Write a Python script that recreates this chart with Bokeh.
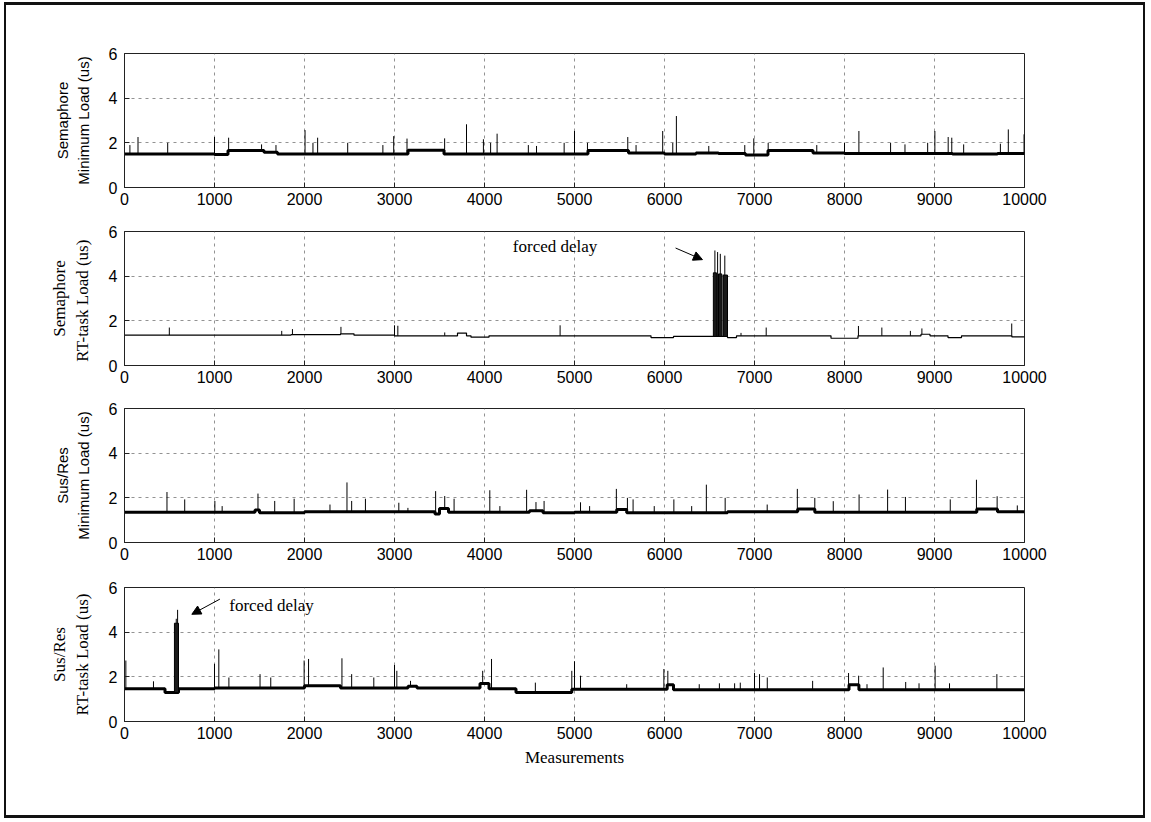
import numpy as np
from bokeh.plotting import figure
from bokeh.layouts import column
from bokeh.models import Range1d, Arrow, NormalHead, Label, FixedTicker
from bokeh.embed import file_html
from bokeh.resources import INLINE

# ---------------- data ----------------
x_ticks = [0, 1000, 2000, 3000, 4000, 5000, 6000, 7000, 8000, 9000, 10000]
y_ticks = [0, 2, 4, 6]
x_end = 10000

# Subplot 1: Semaphore, minimum load
s1_level_x = [0, 1000, 1150, 1550, 1700, 3150, 3550, 5150, 5600, 6000, 6350, 6600, 6900, 7150, 7650, 8000, 9200, 9700]
s1_level_y = [1.50, 1.48, 1.66, 1.58, 1.50, 1.67, 1.50, 1.66, 1.55, 1.50, 1.55, 1.52, 1.45, 1.66, 1.55, 1.52, 1.50, 1.52]
s1_spike_x = [60, 150, 480, 1000, 1157, 1523, 1683, 2006, 2094, 2146, 2480, 2871, 2991, 3139, 3557, 3800, 3988, 4068,
              4140, 4487, 4578, 4885, 5000, 5144, 5592, 5684, 5980, 6092, 6132, 6492, 6892, 6992, 7152, 7692, 8000,
              8160, 8512, 8672, 8924, 9004, 9152, 9192, 9324, 9732, 9820, 9995]
s1_spike_y = [1.90, 2.26, 2.00, 2.26, 2.23, 1.93, 1.90, 2.57, 2.00, 2.23, 2.00, 1.90, 2.30, 2.19, 2.20, 2.83, 2.16, 2.00,
              2.41, 1.90, 1.86, 2.00, 2.53, 2.00, 2.26, 1.90, 2.53, 2.00, 3.20, 1.86, 1.90, 2.20, 2.00, 1.90, 2.00,
              2.53, 2.00, 1.93, 2.00, 2.53, 2.26, 2.23, 1.93, 1.96, 2.60, 2.38]
s1_burst_x0, s1_burst_x1, s1_burst_top = [], [], []

# Subplot 2: Semaphore, RT-task load
s2_level_x = [0, 1850, 2400, 2550, 3000, 3700, 3800, 3850, 4050, 5850, 6100, 6700, 6800, 7850, 8150, 8850, 8950, 9150, 9300, 9860]
s2_level_y = [1.36, 1.38, 1.42, 1.36, 1.33, 1.45, 1.33, 1.27, 1.33, 1.25, 1.30, 1.25, 1.33, 1.22, 1.33, 1.40, 1.33, 1.25, 1.33, 1.28]
s2_spike_x = [498, 1747, 1866, 2405, 3000, 3037, 3558, 4840, 6560, 6590, 6620, 6670, 6850, 7130, 8155, 8415, 8732, 8860, 9858]
s2_spike_y = [1.70, 1.55, 1.63, 1.73, 1.80, 1.78, 1.48, 1.80, 5.15, 5.08, 5.00, 4.92, 1.46, 1.70, 1.77, 1.70, 1.55, 1.66, 1.88]
s2_burst_x0 = [6543, 6600, 6650]
s2_burst_x1 = [6577, 6637, 6700]
s2_burst_top = [4.15, 4.10, 4.05]

# Subplot 3: Sus/Res, minimum load
s3_level_x = [0, 1450, 1500, 2000, 3450, 3500, 3600, 4500, 4650, 5000, 5470, 5580, 6700, 7480, 7670, 9470, 9700]
s3_level_y = [1.36, 1.45, 1.33, 1.38, 1.28, 1.52, 1.35, 1.42, 1.33, 1.36, 1.48, 1.33, 1.38, 1.50, 1.36, 1.50, 1.38]
s3_spike_x = [472, 669, 1004, 1085, 1483, 1669, 1885, 2283, 2472, 2524, 2677, 3048, 3149, 3457, 3558, 3662, 4059,
              4171, 4468, 4572, 4662, 5067, 5168, 5465, 5588, 5651, 5886, 6104, 6302, 6465, 6674, 7141, 7476,
              7670, 7875, 8162, 8479, 8677, 9175, 9466, 9696, 9920]
s3_spike_y = [2.26, 1.93, 1.86, 1.63, 2.19, 1.86, 1.96, 1.70, 2.69, 1.86, 1.96, 1.78, 1.55, 2.30, 2.08, 1.96, 2.34,
              1.63, 2.36, 1.81, 1.86, 1.80, 1.63, 2.40, 2.00, 1.93, 1.63, 1.93, 1.63, 2.59, 2.00, 1.70, 2.40,
              2.00, 1.85, 2.15, 2.37, 2.04, 1.93, 2.81, 2.07, 1.66]
s3_burst_x0, s3_burst_x1, s3_burst_top = [], [], []

# Subplot 4: Sus/Res, RT-task load
s4_level_x = [0, 450, 600, 1000, 2000, 2400, 3150, 3250, 3950, 4050, 4350, 4970, 6030, 6100, 8050, 8160]
s4_level_y = [1.47, 1.30, 1.47, 1.50, 1.60, 1.50, 1.58, 1.50, 1.70, 1.47, 1.30, 1.44, 1.65, 1.42, 1.65, 1.42]
s4_spike_x = [15, 322, 575, 590, 1000, 1048, 1160, 1506, 1625, 1996, 2045, 2416, 2524, 2770, 3000, 3026, 3178,
              3980, 4078, 4565, 4970, 5000, 5067, 5580, 5993, 6037, 6386, 6610, 6779, 6842, 7000, 7056, 7142,
              7646, 8045, 8157, 8250, 8430, 8680, 8828, 9007, 9167, 9693]
s4_spike_y = [2.73, 1.80, 4.60, 5.00, 2.58, 3.23, 1.97, 2.12, 1.97, 2.73, 2.80, 2.83, 2.12, 1.97, 2.53, 2.27, 1.82,
              2.27, 2.80, 1.74, 2.27, 2.70, 2.05, 1.67, 2.35, 2.27, 1.67, 1.71, 1.71, 1.74, 2.17, 2.12, 1.97,
              1.82, 2.17, 2.05, 1.67, 2.42, 1.77, 1.71, 2.50, 1.71, 2.12]
s4_burst_x0 = [555]
s4_burst_x1 = [600]
s4_burst_top = [4.40]

labels = [
    "Semaphore\nMinimum Load (us)",
    "Semaphore\nRT-task Load  (us)",
    "Sus/Res\nMinimum Load (us)",
    "Sus/Res\nRT-task Load (us)",
]

# ---------------- drawing ----------------
SANS = "Liberation Sans"
SERIF = "Liberation Serif"
FIG_W = 1137


def base_at(level_x, level_y, xs):
    idx = np.searchsorted(np.asarray(level_x), np.asarray(xs), side="right") - 1
    return [level_y[i] for i in idx]


def make_fig(height, top, bottom, label, label_font, label_size, level_x, level_y, spike_x, spike_y,
             bx0, bx1, btop, base_w, xlabel=None):
    p = figure(width=FIG_W, height=height, output_backend="svg", toolbar_location=None,
               x_range=Range1d(0, x_end), y_range=Range1d(0, 6),
               min_border_left=118, min_border_right=FIG_W - 118 - 900,
               min_border_top=top, min_border_bottom=bottom)
    p.background_fill_color = "white"
    p.border_fill_color = "white"
    p.outline_line_color = "#222222"
    p.outline_line_width = 1

    p.xaxis.ticker = FixedTicker(ticks=x_ticks)
    p.yaxis.ticker = FixedTicker(ticks=y_ticks)
    for ax in (p.xaxis[0], p.yaxis[0]):
        ax.major_tick_in = 5
        ax.major_tick_out = 0
        ax.minor_tick_in = 0
        ax.minor_tick_out = 0
        ax.axis_line_color = "#222222"
        ax.major_tick_line_color = "#222222"
        ax.major_label_text_font = SANS
        ax.major_label_text_font_size = "16px"
        ax.major_label_text_color = "black"
    p.xaxis.major_label_standoff = 5
    p.yaxis.major_label_standoff = 7

    p.yaxis.axis_label = label
    p.yaxis.axis_label_text_font = label_font
    p.yaxis.axis_label_text_font_size = label_size
    p.yaxis.axis_label_text_font_style = "normal"
    p.yaxis.axis_label_text_color = "black"
    p.yaxis.axis_label_standoff = 14
    if xlabel:
        p.xaxis.axis_label = xlabel
        p.xaxis.axis_label_text_font = SERIF
        p.xaxis.axis_label_text_font_size = "17px"
        p.xaxis.axis_label_text_font_style = "normal"
        p.xaxis.axis_label_text_color = "black"
        p.xaxis.axis_label_standoff = 6

    p.grid.grid_line_color = "#777777"
    p.grid.grid_line_dash = "3 4"
    p.grid.grid_line_width = 1
    p.grid.grid_line_alpha = 0.8

    sx = list(level_x) + [x_end]
    sy = list(level_y) + [level_y[-1]]
    p.step(sx, sy, mode="after", line_color="black", line_width=base_w)
    if spike_x:
        p.segment(x0=spike_x, y0=base_at(level_x, level_y, spike_x), x1=spike_x, y1=spike_y,
                  line_color="black", line_width=1)
    if bx0:
        p.quad(left=bx0, right=bx1, bottom=base_at(level_x, level_y, bx0), top=btop,
               fill_color="#1a1a1a", line_color="black", line_width=1)
    return p


p1 = make_fig(216, 48, 34, labels[0], SANS, "15px", s1_level_x, s1_level_y, s1_spike_x, s1_spike_y,
              s1_burst_x0, s1_burst_x1, s1_burst_top, 3)
p2 = make_fig(177, 10, 33, labels[1], SERIF, "17px", s2_level_x, s2_level_y, s2_spike_x, s2_spike_y,
              s2_burst_x0, s2_burst_x1, s2_burst_top, 1.2)
p3 = make_fig(179, 10, 35, labels[2], SANS, "15px", s3_level_x, s3_level_y, s3_spike_x, s3_spike_y,
              s3_burst_x0, s3_burst_x1, s3_burst_top, 3)
p4 = make_fig(238, 10, 94, labels[3], SERIF, "17px", s4_level_x, s4_level_y, s4_spike_x, s4_spike_y,
              s4_burst_x0, s4_burst_x1, s4_burst_top, 3, xlabel="Measurements")

# annotations
p2.add_layout(Label(x=4784, y=5.33, text="forced delay", text_font=SERIF, text_font_size="17px",
                    text_align="center", text_baseline="middle", text_color="black"))
p2.add_layout(Arrow(end=NormalHead(size=9, fill_color="black", line_color="black"),
                    x_start=6123, y_start=5.26, x_end=6422, y_end=4.74, line_color="black", line_width=1))
p4.add_layout(Label(x=1633, y=5.2, text="forced delay", text_font=SERIF, text_font_size="17px",
                    text_align="center", text_baseline="middle", text_color="black"))
p4.add_layout(Arrow(end=NormalHead(size=9, fill_color="black", line_color="black"),
                    x_start=1060, y_start=5.48, x_end=748, y_end=4.80, line_color="black", line_width=1))

layout = column(p1, p2, p3, p4, spacing=0,
                styles={"border-left": "2px solid #111", "border-right": "2px solid #111",
                        "border-top": "3px solid #111", "border-bottom": "3px solid #111",
                        "margin-left": "4px", "margin-top": "2px", "background-color": "white"})

open("out.html", "w").write(file_html(layout, INLINE))
